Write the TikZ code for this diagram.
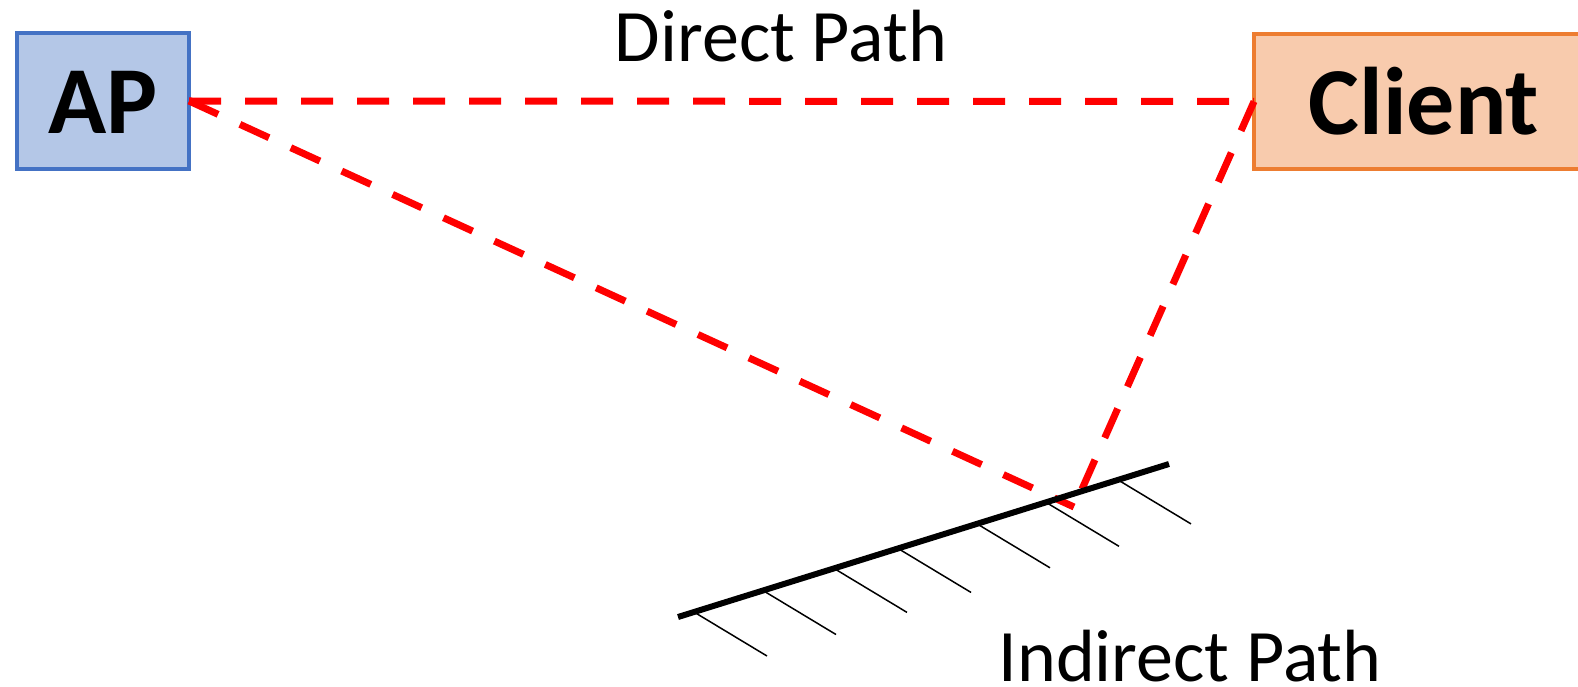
\documentclass[tikz,border=0pt]{standalone}
\usepackage{fontspec}
\setmainfont{Carlito}
\usetikzlibrary{calc}
\definecolor{apfill}{HTML}{B4C7E7}
\definecolor{apline}{HTML}{4472C4}
\definecolor{clfill}{HTML}{F8CBAD}
\definecolor{clline}{HTML}{ED7D31}
\begin{document}
\begin{tikzpicture}[x=1pt,y=-1pt,
  box/.style={draw, line width=4pt, rectangle, inner sep=0pt, outer sep=0pt,
    text height=66pt, text depth=0pt,
    font=\fontsize{96}{100}\selectfont\bfseries},
  sigpath/.style={draw=red, line width=7pt, dash pattern=on 32pt off 24pt},
  lbl/.style={anchor=base, inner sep=0pt, text depth=0pt, font=\fontsize{74}{80}\selectfont},
  mirror/.style={line width=6pt},
  hatch/.style={line width=1.5pt}]
\clip (0,0) rectangle (1578,687);
\node[box, fill=apfill, draw=apline, minimum width=172pt, minimum height=136pt] (AP) at (103,101) {AP};
\node[box, fill=clfill, draw=clline, minimum width=340pt, minimum height=135pt] (Client) at (1424,101.5) {Client};
\node[lbl] (direct) at (781,62) {Direct Path};
\node[lbl] (indirect) at (1190,681) {Indirect Path};
\coordinate (R) at (1074,507);
\coordinate (M1) at (678,617);
\coordinate (M2) at (1169,464);
\draw[sigpath] (AP.east) -- (Client.west);
\draw[sigpath] (AP.east) -- (R);
\draw[sigpath] (Client.west) -- (R);
\foreach \t in {0.0326,0.1731,0.3177,0.4481,0.6090,0.7495,0.8961}
  \draw[hatch] ($(M1)!\t!(M2)$) -- ++(73,44);
\draw[mirror] (M1) -- (M2);
\end{tikzpicture}
\end{document}
